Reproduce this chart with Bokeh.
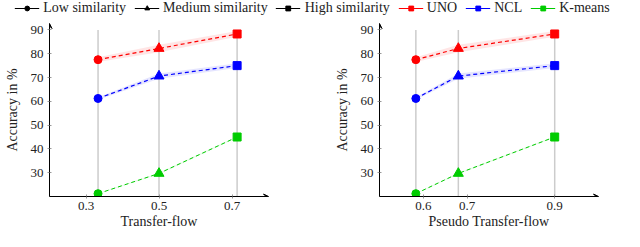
from bokeh.plotting import figure
from bokeh.layouts import column, row
from bokeh.models import (Legend, LegendItem, Arrow, VeeHead, FixedTicker,
                          Range1d, ColumnDataSource)
from bokeh.embed import file_html
from bokeh.resources import INLINE

# ---------------- data ----------------
transfer_flow = [0.333, 0.5, 0.714]
pseudo_flow = [0.583, 0.68, 0.9]
ticks_left = [0.3, 0.5, 0.7]
ticks_right = [0.6, 0.7, 0.9]
y_ticks = [30, 40, 50, 60, 70, 80, 90]

uno = [77.5, 82.2, 88.3]
uno_err = [1.0, 1.6, 1.2]
ncl = [61.2, 70.6, 75.0]
ncl_err = [0.5, 1.1, 1.0]
kmeans = [21.2, 29.7, 45.0]
kmeans_err = [0.2, 0.3, 0.3]

similarity = ["Low similarity", "Medium similarity", "High similarity"]
markers = ["circle", "triangle", "square"]
marker_sizes = [8, 10, 8]
methods = ["UNO", "NCL", "K-means"]
colors = ["#ff0000", "#0000ff", "#00cc00"]
series = [uno, ncl, kmeans]
errors = [uno_err, ncl_err, kmeans_err]

FONT = "Liberation Serif"
Y0, Y1 = 20, 92.7


def make_panel(xs, ticks, xr, xlabel, w, bl, br):
    p = figure(width=w, height=216, x_range=Range1d(*xr), y_range=Range1d(Y0, Y1),
               output_backend="svg", toolbar_location=None,
               min_border_left=bl, min_border_right=br, min_border_top=8,
               min_border_bottom=0, outline_line_color=None)
    p.grid.visible = False
    # grey vertical guide lines at the data x positions
    p.segment(x0=xs, y0=[Y0] * len(xs), x1=xs, y1=[y_ticks[-1]] * len(xs),
              line_color="#cccccc", line_width=1.5)
    for vals, err, c, lw in zip(series, errors, colors, [1.2, 1.2, 1.0]):
        lo = [v - e for v, e in zip(vals, err)]
        hi = [v + e for v, e in zip(vals, err)]
        p.varea(x=xs, y1=lo, y2=hi, fill_color=c, fill_alpha=0.1)
        p.line(xs, vals, line_color=c, line_width=lw, line_dash="4 3")
        src = ColumnDataSource(dict(x=xs, y=vals, m=markers, s=marker_sizes))
        p.scatter("x", "y", marker="m", size="s", source=src, fill_color=c, line_color=c)

    for ax in (p.xaxis[0], p.yaxis[0]):
        ax.axis_line_color = "black"
        ax.axis_line_width = 1
        ax.major_tick_in = 2
        ax.major_tick_out = 2
        ax.major_tick_line_color = "#999999"
        ax.minor_tick_line_color = None
        ax.major_label_text_font = FONT
        ax.major_label_text_font_size = "13px"
        ax.major_label_text_color = "#222222"
        ax.axis_label_text_font = FONT
        ax.axis_label_text_font_size = "14px"
        ax.axis_label_text_font_style = "normal"
        ax.axis_label_text_color = "#222222"
    p.xaxis.ticker = FixedTicker(ticks=ticks)
    p.xaxis.major_label_overrides = {t: str(t) for t in ticks}
    p.yaxis.ticker = FixedTicker(ticks=y_ticks)
    p.xaxis.axis_label = xlabel
    p.yaxis.axis_label = "Accuracy in %"
    p.xaxis.major_label_standoff = 3
    p.xaxis.axis_label_standoff = 1
    p.yaxis.major_label_standoff = 4
    p.yaxis.axis_label_standoff = 8

    head = dict(size=5, fill_color="black", line_color="black")
    p.add_layout(Arrow(end=VeeHead(**head), x_start=xr[0], y_start=Y0, x_end=xr[1], y_end=Y0,
                       line_color="black", line_width=1))
    p.add_layout(Arrow(end=VeeHead(**head), x_start=xr[0], y_start=Y0, x_end=xr[0], y_end=Y1,
                       line_color="black", line_width=1))
    return p


p1 = make_panel(transfer_flow, ticks_left, (0.2, 0.8), "Transfer-flow", 316, 49, 48)
p2 = make_panel(pseudo_flow, ticks_right, (0.5, 1.0), "Pseudo Transfer-flow", 308, 63, 26)

# ---------------- legend ----------------
pl = figure(width=624, height=15, x_range=Range1d(0, 1), y_range=Range1d(0, 1),
            x_axis_location=None, y_axis_location=None, toolbar_location=None,
            outline_line_color=None, min_border=0, output_backend="svg")
pl.grid.visible = False
items = []
off = dict(x=[-10, -9], y=[-10, -10])  # legend-only renderers, outside the visible range
for name, m in zip(similarity, markers):
    r1 = pl.line(line_color="black", line_width=1.2, **off)
    r2 = pl.scatter(marker=m, size=6, fill_color="black", line_color="black", **off)
    items.append(LegendItem(label=name, renderers=[r1, r2]))
for name, c in zip(methods, colors):
    r1 = pl.line(line_color=c, line_width=1.2, **off)
    r2 = pl.scatter(marker="square", size=6, fill_color=c, line_color=c, **off)
    items.append(LegendItem(label=name, renderers=[r1, r2]))
leg = Legend(items=items, orientation="horizontal", location="center",
             glyph_width=25, glyph_height=12, label_standoff=4, spacing=8,
             padding=0, margin=0, border_line_color=None, background_fill_alpha=0,
             label_text_font=FONT, label_text_font_size="14px",
             label_text_color="#222222", label_height=12)
pl.add_layout(leg, "center")

layout = column(pl, row(p1, p2, spacing=0), spacing=0)
open("out.html", "w").write(file_html(layout, INLINE))
